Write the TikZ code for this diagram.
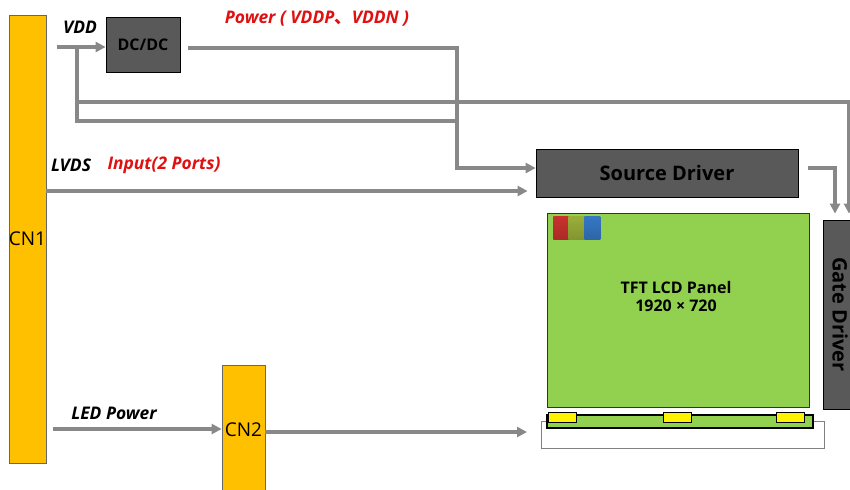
\documentclass[tikz,border=0pt]{standalone}
\usepackage{fontspec}
\setmainfont{Open Sans}
\newfontfamily\cjk{Noto Sans CJK SC}
\usetikzlibrary{%
	arrows.meta,%
	positioning,%
	shapes.misc%
}
\definecolor{connyellow}{HTML}{FFC000}
\definecolor{chipgray}{HTML}{595959}
\definecolor{panelgreen}{HTML}{92D050}
\definecolor{wiregray}{HTML}{888888}
\definecolor{labelred}{HTML}{E01010}
\definecolor{subred}{HTML}{C8322E}
\definecolor{subolive}{HTML}{9AAF3A}
\definecolor{subblue}{HTML}{3577C4}

\begin{document}
\begin{tikzpicture}[
x=0.5pt,y=-0.5pt,
>={Triangle[length=5pt,width=5pt]},
wire/.style={draw=wiregray,line width=2pt},
connector/.style={rectangle,draw=black!60,fill=connyellow,inner sep=0pt,
font=\fontsize{9.5}{11}\selectfont},
chip/.style={rectangle,draw=black,fill=chipgray,inner sep=0pt,font=\bfseries},
panel/.style={rectangle,draw=black!80,fill=panelgreen,inner sep=0pt},
subpixel/.style={rectangle,inner sep=0pt,anchor=north west,
minimum width=8pt,minimum height=11.5pt},
led/.style={rectangle,draw=black,fill=yellow,inner sep=0pt,line width=0.7pt,
minimum width=14pt,minimum height=5pt,anchor=north west},
tag/.style={font=\fontsize{8.7}{10}\selectfont\bfseries\itshape,inner sep=0pt}
]
\useasboundingbox (0,0) rectangle (850,489);

% blocks
\node [connector,minimum width=18.5pt,minimum height=224pt] (cn1) at (27.5,239) {CN1};
\node [connector,minimum width=21.5pt,minimum height=65pt] (cn2) at (243.5,430) {CN2};
\node [chip,minimum width=37pt,minimum height=27.5pt,font=\fontsize{8}{10}\selectfont\bfseries] (dcdc) at (143,44.5) {DC/DC};
\node [chip,minimum width=131pt,minimum height=24pt,font=\fontsize{10}{12}\selectfont\bfseries] (source) at (667,173) {Source Driver};
\node [chip,rotate=-90,minimum width=94.5pt,minimum height=17pt,font=\fontsize{10}{12}\selectfont\bfseries] (gate) at (840,314.5) {Gate Driver};

\node [panel,minimum width=131pt,minimum height=97pt] (lcd) at (678,310) {};
\node [align=center,font=\fontsize{8}{9}\selectfont\bfseries] (lcd text) at (676,296) {TFT LCD Panel\\1920 × 720};
\node [subpixel,top color=subred,bottom color=subred!85!black] (pix r) at (553,216) {};
\node [subpixel,top color=subolive,bottom color=subolive!85!black] (pix g) at (568,216) {};
\node [subpixel,top color=subblue,bottom color=subblue!85!black] (pix b) at (584,216) {};

\node [rectangle,draw=black!50,inner sep=0pt,minimum width=141.5pt,minimum height=13.5pt,anchor=north west] (frame) at (541,421) {};
\node [rectangle,draw=black,fill=panelgreen,line width=1pt,inner sep=0pt,minimum width=133pt,minimum height=6.5pt,anchor=north west] (ledbar) at (546,414) {};
\node [led] (led a) at (548,412) {};
\node [led] (led b) at (663,412) {};
\node [led] (led c) at (776,412) {};

% labels
\node [tag] (vdd label) at (80,27) {VDD};
\node [tag,text=labelred] (power label) at (317,19) {Power ( VDDP{\cjk 、}VDDN )};
\node [tag] (lvds label) at (71,165) {LVDS};
\node [tag,text=labelred] (input label) at (164,165) {Input(2 Ports)};
\node [tag] (led label) at (114,413) {LED Power};

% wires
\coordinate (vdd in)    at (57,47);
\coordinate (vdd split) at (77,47);
\coordinate (rail high) at (77,102);
\coordinate (power out) at (188,48);
\coordinate (bus join)  at (457,121);
\coordinate (lvds in)   at (46,191);
\coordinate (led in)    at (53,429);

\begin{scope}[wire]
\draw [->] (vdd in) -- (vdd in -| dcdc.west);
\draw (vdd split) |- (bus join);
\draw [->,shorten >=3pt] (rail high) -| ([xshift=4.5pt]gate.west);
\draw [->] (power out) -| (bus join) |- ([yshift=2.5pt]source.west);
\draw [->,shorten >=4pt] (lvds in) -- (lvds in -| source.west);
\draw [->,shorten <=5pt,shorten >=3pt] ([yshift=2.5pt]source.east) -| ([xshift=-2.5pt]gate.west);
\draw [->] (led in) -- (led in -| cn2.west);
\draw [->,shorten >=7pt] ([yshift=-1pt]cn2.east) -- ([yshift=-1pt]cn2.east -| frame.west);
\end{scope}
\end{tikzpicture}
\end{document}
